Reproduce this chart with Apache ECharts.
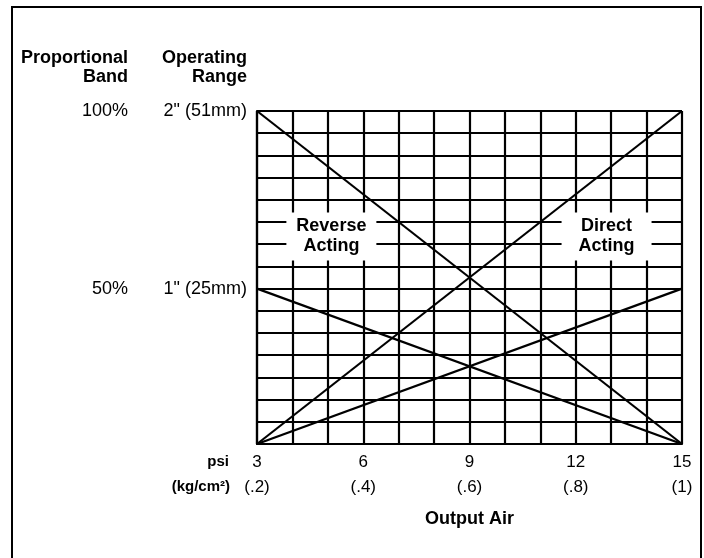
<!DOCTYPE html>
<html>
<head>
<meta charset="utf-8">
<script src="https://cdn.jsdelivr.net/npm/echarts@6/dist/echarts.min.js"></script>
<style>
html,body{margin:0;padding:0;background:#fff;}
#chart{width:704px;height:558px;}
</style>
</head>
<body>
<div id="chart"></div>
<script>
// Output air (psi) tick labels and their kg/cm² equivalents
var psiTicks = [3, 6, 9, 12, 15];
var kgTicks = ['(.2)', '(.4)', '(.6)', '(.8)', '(1)'];
// Vertical scale: grid rows 0..15; labelled rows
var yLabelValues = [15, 7];
var rangeLabels = ['2" (51mm)', '1" (25mm)'];
var bandLabels = ['100%', '50%'];
// Lines: [startX, startY, endX, endY]
var reverseFull = [[3, 15], [15, 0]];
var reverseHalf = [[3, 7], [15, 0]];
var directFull = [[3, 0], [15, 15]];
var directHalf = [[3, 0], [15, 7]];
// Region labels
var regionLabels = [[5.1, 9.35, 'Reverse\nActing'], [12.87, 9.35, 'Direct\nActing']];

var FONT = '"Liberation Sans", Arial, Helvetica, sans-serif';
var chart = echarts.init(document.getElementById('chart'), null, {renderer: 'canvas'});

function lineSeries(d) {
  return {
    type: 'line', data: d, symbol: 'none', silent: true, z: 3,
    lineStyle: {color: '#000', width: 2.2}
  };
}

var option = {
  backgroundColor: '#fff',
  animation: false,
  grid: {left: 257, right: 22, top: 111, bottom: 114, show: false},
  xAxis: {
    type: 'value', min: 3, max: 15, interval: 1,
    axisLine: {show: true, lineStyle: {color: '#000', width: 2.2}},
    axisTick: {show: false},
    splitLine: {show: true, showMinLine: true, showMaxLine: true, lineStyle: {color: '#000', width: 2.2}},
    axisLabel: {
      margin: 6,
      fontFamily: FONT,
      formatter: function (v) {
        var i = psiTicks.indexOf(v);
        if (i < 0) return '';
        return '{a|' + psiTicks[i] + '}\n{b|' + kgTicks[i] + '}';
      },
      rich: {
        a: {fontSize: 17, lineHeight: 25, color: '#000', fontFamily: FONT},
        b: {fontSize: 17, lineHeight: 25, color: '#000', fontFamily: FONT}
      }
    },
    name: 'Output Air', nameLocation: 'middle', nameGap: 75,
    nameTextStyle: {fontSize: 18, fontWeight: 'bold', color: '#000', fontFamily: FONT, verticalAlign: 'middle'}
  },
  yAxis: [{
    type: 'value', min: 0, max: 15, interval: 1,
    axisLine: {show: true, lineStyle: {color: '#000', width: 2.2}},
    axisTick: {show: false},
    splitLine: {show: true, showMinLine: true, showMaxLine: true, lineStyle: {color: '#000', width: 2.2}},
    axisLabel: {
      margin: 10, fontSize: 18, color: '#000', fontFamily: FONT,
      formatter: function (v) {
        var i = yLabelValues.indexOf(v);
        return i < 0 ? '' : rangeLabels[i];
      }
    }
  }, {
    type: 'value', min: 0, max: 15, interval: 1, position: 'left', offset: 119,
    axisLine: {show: false}, axisTick: {show: false}, splitLine: {show: false},
    axisLabel: {
      margin: 10, fontSize: 18, color: '#000', fontFamily: FONT,
      formatter: function (v) {
        var i = yLabelValues.indexOf(v);
        return i < 0 ? '' : bandLabels[i];
      }
    }
  }],
  series: [
    lineSeries(reverseFull), lineSeries(reverseHalf),
    lineSeries(directFull), lineSeries(directHalf),
    {
      type: 'scatter', data: regionLabels, symbolSize: 1, silent: true, z: 5,
      itemStyle: {color: '#fff', opacity: 1},
      label: {
        show: true, position: 'inside', opacity: 1,
        formatter: function (p) { return p.data[2]; },
        fontSize: 18, fontWeight: 'bold', color: '#000', fontFamily: FONT,
        lineHeight: 20, align: 'center', verticalAlign: 'middle',
        width: 72, backgroundColor: '#fff', padding: [4, 9]
      }
    }
  ],
  graphic: [
    {type: 'rect', shape: {x: 12, y: 7, width: 689, height: 570}, style: {fill: 'none', stroke: '#000', lineWidth: 2}, silent: true},
    {type: 'text', x: 128, y: 67.5, style: {text: 'Proportional\nBand', fontSize: 18, fontWeight: 'bold', fill: '#000', fontFamily: FONT, align: 'right', verticalAlign: 'middle', lineHeight: 19}},
    {type: 'text', x: 247, y: 67.5, style: {text: 'Operating\nRange', fontSize: 18, fontWeight: 'bold', fill: '#000', fontFamily: FONT, align: 'right', verticalAlign: 'middle', lineHeight: 19}},
    {type: 'text', x: 229, y: 462, style: {text: 'psi', fontSize: 15, fontWeight: 'bold', fill: '#000', fontFamily: FONT, align: 'right', verticalAlign: 'middle'}},
    {type: 'text', x: 230, y: 487, style: {text: '(kg/cm²)', fontSize: 15, fontWeight: 'bold', fill: '#000', fontFamily: FONT, align: 'right', verticalAlign: 'middle'}}
  ]
};
chart.setOption(option);
</script>
</body>
</html>
